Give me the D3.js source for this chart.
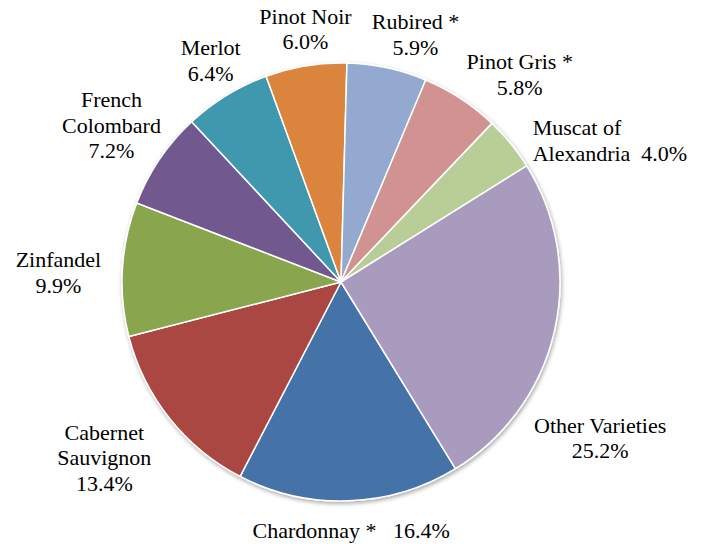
<!DOCTYPE html>
<html>
<head>
<meta charset="utf-8">
<script src="https://cdn.jsdelivr.net/npm/d3@7"></script>
<style>
  body { margin: 0; background: #fff; }
  svg text { font-family: 'Liberation Serif', 'Times New Roman', Times, 'DejaVu Serif', serif; font-size: 22px; fill: #000; white-space: pre; }
</style>
</head>
<body>
<div id="pie"></div>
<script>
// varieties in series order (first slice = Chardonnay)
var varieties = ["Chardonnay", "Cabernet Sauvignon", "Zinfandel", "French Colombard", "Merlot",
                 "Pinot Noir", "Rubired", "Pinot Gris", "Muscat of Alexandria", "Other Varieties"];
var shares = [16.4, 13.4, 9.9, 7.2, 6.4, 6.0, 5.9, 5.8, 4.0, 25.2];
var colors = ["#4572a7", "#aa4643", "#89a54e", "#71588f", "#4198af",
              "#db843d", "#93a9cf", "#d19392", "#b9cd96", "#a99bbd"];
// label text, one entry per line
var labelLines = [
    ["Chardonnay *   16.4%"],
    ["Cabernet", "Sauvignon", "13.4%"],
    ["Zinfandel", "9.9%"],
    ["French", "Colombard", "7.2%"],
    ["Merlot", "6.4%"],
    ["Pinot Noir", "6.0%"],
    ["Rubired *", "5.9%"],
    ["Pinot Gris *", "5.8%"],
    ["Muscat of", "Alexandria  4.0%"],
    ["Other Varieties", "25.2%"]
];

function pieChart() {
    var width = 706, height = 544;
    var cx = 341, cy = 282, radius = 219;
    var lineH = 25.5;

    // nudges of each label from its spot on the label ring (Excel best-fit placement)
    var labelNudge = [[1, -10], [-34, 15], [-24, 6], [-15, -11], [5, 0],
                      [6, 3], [20, 6], [37, 10], [-9, 23], [7, 97]];
    var labelAnchor = ["middle", "middle", "middle", "middle", "middle",
                       "middle", "middle", "middle", "start", "middle"];

    var svg = d3.select("#pie").append("svg")
        .attr("width", width)
        .attr("height", height);

    var defs = svg.append("defs");
    var shadow = defs.append("filter")
        .attr("id", "shadow")
        .attr("x", "-10%").attr("y", "-10%")
        .attr("width", "120%").attr("height", "120%");
    shadow.append("feGaussianBlur").attr("in", "SourceAlpha").attr("stdDeviation", 2);
    shadow.append("feOffset").attr("dx", 1).attr("dy", 2).attr("result", "blur");
    shadow.append("feComponentTransfer").append("feFuncA").attr("type", "linear").attr("slope", 0.35);
    var merge = shadow.append("feMerge");
    merge.append("feMergeNode");
    merge.append("feMergeNode").attr("in", "SourceGraphic");

    var g = svg.append("g")
        .attr("transform", "translate(" + cx + "," + cy + ")");

    var idx = d3.range(shares.length);
    var start = 148.5 * Math.PI / 180;
    var pie = d3.pie()
        .sort(null)
        .value(function (i) { return shares[i]; })
        .startAngle(start)
        .endAngle(start + 2 * Math.PI);

    var arcs = pie(idx);

    var arc = d3.arc().innerRadius(0).outerRadius(radius);
    var labelArc = d3.arc().innerRadius(radius + 40).outerRadius(radius + 40);

    g.append("g")
        .attr("filter", "url(#shadow)")
        .selectAll("path")
        .data(arcs)
        .enter()
        .append("path")
        .attr("d", arc)
        .attr("fill", function (d) { return colors[d.data]; })
        .attr("stroke", "#fff")
        .attr("stroke-width", 1.5)
        .attr("stroke-linejoin", "round");

    var labels = g.selectAll(".label")
        .data(arcs)
        .enter()
        .append("text")
        .attr("class", "label")
        .attr("font-family", "Liberation Serif")
        .attr("text-anchor", function (d) { return labelAnchor[d.data]; })
        .attr("transform", function (d) {
            var c = labelArc.centroid(d);
            var n = labelLines[d.data].length;
            var x = c[0] + labelNudge[d.data][0];
            var y = c[1] - (n - 1) * lineH / 2 + 7 + labelNudge[d.data][1];
            return "translate(" + x + "," + y + ")";
        });

    labels.selectAll("tspan")
        .data(function (d) { return labelLines[d.data]; })
        .enter()
        .append("tspan")
        .attr("x", 0)
        .attr("y", function (t, i) { return i * lineH; })
        .text(function (t) { return t; });
}
pieChart();
</script>
</body>
</html>
